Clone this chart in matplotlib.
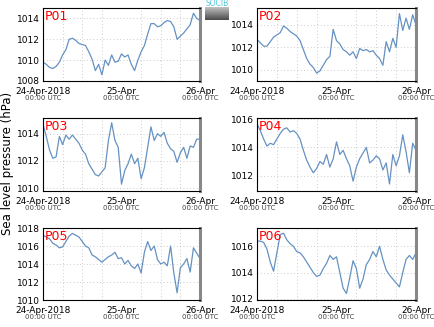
import matplotlib
matplotlib.use("Agg")
import matplotlib.pyplot as plt
import matplotlib.transforms as mtransforms
import numpy as np

# hours after 24-Apr-2018 00:00 UTC
hours = list(range(49))

p01 = [1009.8, 1009.6, 1009.3, 1009.2, 1009.4, 1009.8, 1010.5, 1011.0, 1012.0, 1012.1,
       1011.9, 1011.6, 1011.5, 1011.4, 1010.8, 1010.1, 1009.0, 1009.6, 1008.6, 1010.0,
       1009.5, 1010.5, 1009.8, 1009.9, 1010.6, 1010.3, 1010.5, 1009.6, 1009.0, 1010.0,
       1010.8, 1011.4, 1012.5, 1013.5, 1013.5, 1013.2, 1013.3, 1013.6, 1013.8, 1013.7,
       1013.2, 1012.0, 1012.3, 1012.6, 1013.0, 1013.4, 1014.5, 1014.0, 1013.8]
p02 = [1012.7, 1012.4, 1012.1, 1012.1, 1012.5, 1012.9, 1013.1, 1013.3, 1013.9, 1013.7,
       1013.4, 1013.2, 1013.0, 1012.6, 1011.8, 1011.0, 1010.5, 1010.2, 1009.7, 1009.9,
       1010.4, 1010.9, 1011.2, 1013.6, 1012.6, 1012.3, 1011.8, 1011.6, 1011.3, 1011.6,
       1011.0, 1011.9, 1011.7, 1011.8, 1011.6, 1011.7, 1011.3, 1011.0, 1010.4, 1012.5,
       1011.6, 1012.8, 1012.0, 1015.0, 1013.5, 1014.6, 1013.6, 1014.9, 1014.0]
p03 = [1014.7, 1013.8, 1012.8, 1012.2, 1012.3, 1013.8, 1013.2, 1013.9, 1013.6, 1013.9,
       1013.6, 1013.3, 1012.8, 1012.5, 1011.8, 1011.4, 1011.0, 1010.9, 1011.2, 1011.5,
       1013.5, 1014.8, 1013.5, 1013.0, 1010.3, 1011.3, 1011.8, 1012.5, 1011.8, 1012.2,
       1010.7, 1011.5, 1013.0, 1014.5, 1013.5, 1014.0, 1013.8, 1014.1, 1013.3, 1012.9,
       1012.7, 1011.9, 1012.6, 1013.0, 1012.2, 1013.1, 1013.0, 1013.6, 1013.6]
p04 = [1015.7, 1015.2, 1014.6, 1014.1, 1014.3, 1014.2, 1014.6, 1015.0, 1015.3, 1015.4,
       1015.1, 1015.2, 1015.0, 1014.6, 1013.8, 1013.1, 1012.6, 1012.2, 1012.5, 1013.0,
       1012.8, 1013.5, 1012.6, 1013.2, 1014.4, 1013.5, 1013.8, 1013.2, 1012.7, 1011.6,
       1012.6, 1013.2, 1013.6, 1014.0, 1012.9, 1013.1, 1013.4, 1013.2, 1012.4, 1012.9,
       1011.4, 1013.5, 1012.7, 1013.4, 1014.9, 1013.7, 1012.2, 1014.3, 1013.8]
p05 = [1017.2, 1017.0, 1016.8, 1016.3, 1016.1, 1015.8, 1015.9, 1016.5, 1017.1, 1017.4,
       1017.2, 1017.0, 1016.5, 1016.0, 1015.8, 1015.0, 1014.8, 1014.5, 1014.2, 1014.5,
       1014.8, 1015.0, 1015.3, 1014.6, 1014.7, 1014.0, 1014.4, 1013.8, 1013.5, 1014.0,
       1013.0, 1015.3, 1016.5, 1015.5, 1016.0, 1014.5, 1014.0, 1014.2, 1013.8, 1016.0,
       1013.0, 1010.8, 1013.6, 1014.0, 1014.6, 1013.1, 1015.8, 1015.2, 1014.6]
p06 = [1016.4, 1016.4, 1016.3, 1015.8, 1014.8, 1014.1, 1015.5, 1016.9, 1017.0, 1016.5,
       1016.2, 1016.0, 1015.6, 1015.5, 1015.2, 1014.8, 1014.4, 1014.0, 1013.7, 1013.8,
       1014.3, 1014.7, 1015.3, 1015.0, 1015.2, 1014.0, 1012.8, 1012.4, 1013.6, 1014.9,
       1014.3, 1012.8, 1013.5, 1014.6, 1015.0, 1015.6, 1015.2, 1016.0, 1015.0, 1014.2,
       1013.8, 1013.5, 1013.2, 1012.9, 1014.0, 1015.0, 1015.3, 1015.0, 1015.5]

names = ["P01", "P02", "P03", "P04", "P05", "P06"]
series = [p01, p02, p03, p04, p05, p06]
ylims = [(1008, 1015.0), (1009.0, 1015.5), (1009.8, 1015.15),
         (1010.9, 1016.1), (1010, 1018), (1011.9, 1017.4)]
yticks = [[1008, 1010, 1012, 1014], [1010, 1012, 1014], [1010, 1012, 1014],
          [1012, 1014, 1016], [1010, 1012, 1014, 1016, 1018], [1012, 1014, 1016]]
date_labels = ["24-Apr-2018", "25-Apr", "26-Apr"]

W, H = 435, 327
fig = plt.figure(figsize=(W / 100, H / 100), dpi=100)

# axes boxes in pixels: left, top, right, bottom
boxes = [(43, 8, 200, 81), (257, 8, 416, 81),
         (43, 118, 200, 191), (257, 118, 416, 191),
         (43, 228, 200, 300), (257, 228, 416, 300)]

for name, ys, yl, yt, (l, t, r, b) in zip(names, series, ylims, yticks, boxes):
    ax = fig.add_axes([l / W, 1 - b / H, (r - l) / W, (b - t) / H])
    ax.plot(hours, ys, color="#6592c2", lw=0.9)
    ax.set_xlim(0, 48)
    ax.set_ylim(*yl)
    ax.set_yticks(yt)
    ax.set_yticklabels([str(v) for v in yt], fontsize=6.5)
    ax.set_xticks([0, 24, 48])
    ax.set_xticklabels(date_labels, fontsize=6.5)
    ax.set_xticks(np.arange(0, 49, 6), minor=True)
    ax.tick_params(which="both", length=0)
    ax.tick_params(axis="x", pad=4)
    ax.tick_params(axis="y", pad=2)
    ax.grid(which="minor", axis="x", ls=(0, (1, 3)), color="#bbbbbb", lw=0.6)
    ax.grid(which="major", axis="y", ls=(0, (1, 3)), color="#bbbbbb", lw=0.6)
    for s in ax.spines.values():
        s.set_linewidth(0.8)
    ax.spines["right"].set_color("#888888")
    ax.spines["right"].set_linewidth(2.2)
    trans = mtransforms.blended_transform_factory(ax.transData, ax.transAxes)
    for x in [0, 24, 48]:
        ax.text(x, -0.19, "00:00 UTC", transform=trans, ha="center", va="top",
                fontsize=5, color="#444444")
    ax.text(0.01, 0.97, name, transform=ax.transAxes, ha="left", va="top",
            fontsize=9, color="red")

fig.text(8 / W, 0.5, "Sea level pressure (hPa)", rotation=90, ha="center",
         va="center", fontsize=8.5)

# small logo box
lax = fig.add_axes([205 / W, 1 - 20 / H, 24 / W, 13 / H])
lax.imshow(np.linspace(0.75, 0.3, 20).reshape(-1, 1), cmap="gray", aspect="auto",
           vmin=0, vmax=1, extent=[0, 1, 0, 1])
lax.axis("off")
fig.text(217 / W, 1 - 4 / H, "SOCIB", ha="center", va="center", fontsize=5.5,
         color="#4fc3d9")

fig.savefig("out.png", dpi=100)
